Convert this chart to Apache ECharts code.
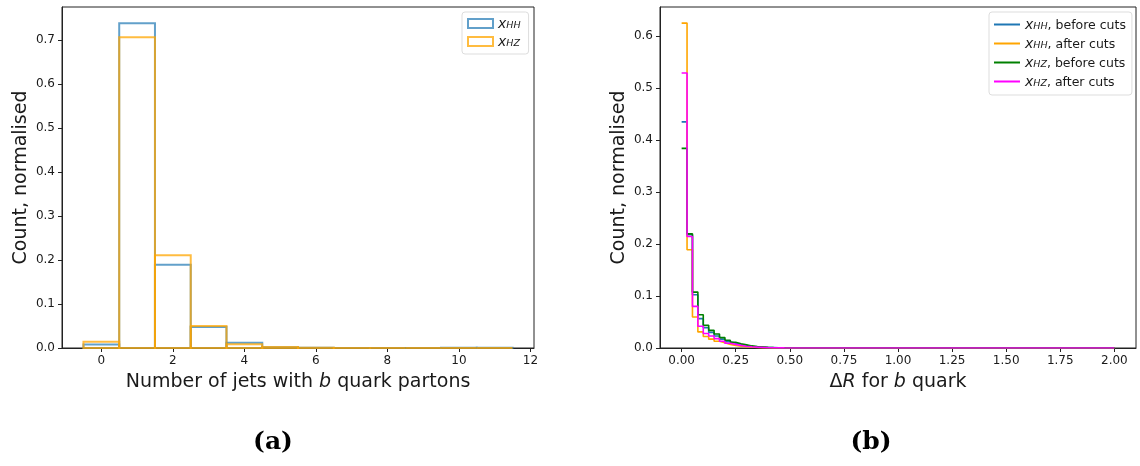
<!DOCTYPE html>
<html>
<head>
<meta charset="utf-8">
<script src="https://cdn.jsdelivr.net/npm/echarts@6/dist/echarts.min.js"></script>
<style>
  html, body { margin: 0; padding: 0; background: #fff; }
  #chart { width: 1140px; height: 466px; }
</style>
</head>
<body>
<div id="chart"></div>
<script>
// (a) number of jets with b quark partons, bins centred on integers
const jetCounts = [0, 1, 2, 3, 4, 5, 6, 7, 8, 9, 10, 11];
const jetsHH = [0.008, 0.738, 0.189, 0.048, 0.012, 0.0015, 0.0003, 0.0001, 0.0001, 0.0001, 0.0004, 0.0003];
const jetsHZ = [0.014, 0.706, 0.211, 0.050, 0.0085, 0.002, 0.0003, 0.0001, 0, 0, 0, 0];

// (b) delta R for b quark, bins of 0.025 starting at 0 (empty after 0.5, axis ends at 2.0)
const dRBinWidth = 0.025;
const dREnd = 2.0;
const hhBefore = [0.435, 0.218, 0.1025, 0.0565, 0.039, 0.030, 0.023, 0.017, 0.012, 0.009, 0.006, 0.0045, 0.003, 0.002, 0.0015, 0.001, 0.0007, 0.0004, 0.0002, 0.0001];
const hhAfter  = [0.625, 0.189, 0.0595, 0.031, 0.022, 0.017, 0.013, 0.010, 0.007, 0.005, 0.0035, 0.0025, 0.0018, 0.0012, 0.0008, 0.0005, 0.0003, 0.0002, 0.0001, 0];
const hzBefore = [0.384, 0.2196, 0.1075, 0.064, 0.0436, 0.034, 0.027, 0.020, 0.015, 0.011, 0.008, 0.006, 0.004, 0.003, 0.0022, 0.0015, 0.001, 0.0006, 0.0003, 0.0002];
const hzAfter  = [0.529, 0.2144, 0.080, 0.0417, 0.028, 0.023, 0.018, 0.013, 0.009, 0.007, 0.005, 0.0035, 0.0025, 0.0017, 0.0012, 0.0008, 0.0005, 0.0003, 0.0002, 0.0001];

const leftXTicks = [0, 2, 4, 6, 8, 10, 12];
const leftYTicks = [0, 0.1, 0.2, 0.3, 0.4, 0.5, 0.6, 0.7];
const rightXTicks = [0, 0.25, 0.5, 0.75, 1.0, 1.25, 1.5, 1.75, 2.0];
const rightYTicks = [0, 0.1, 0.2, 0.3, 0.4, 0.5, 0.6];

const FONT = 'DejaVu Sans';
const INK = '#1a1a1a';

function stepData(values) {
    const pts = values.map((v, i) => [i * dRBinWidth, v]);
    pts.push([dREnd, 0]);
    return pts;
}

function barOutline(color) {
    return function (params, api) {
        const x = api.value(0);
        const h = api.value(1);
        const p0 = api.coord([x - 0.5, 0]);
        const p1 = api.coord([x + 0.5, h]);
        return {
            type: 'rect',
            shape: { x: p0[0], y: p1[1], width: p1[0] - p0[0], height: p0[1] - p1[1] },
            style: { fill: 'none', stroke: color, lineWidth: 2 }
        };
    };
}

const legendRich = {
    x: { fontFamily: FONT, fontStyle: 'italic', fontSize: 14, color: INK, verticalAlign: 'bottom', lineHeight: 15 },
    s: { fontFamily: FONT, fontStyle: 'italic', fontSize: 9.5, color: INK, verticalAlign: 'bottom', lineHeight: 11 },
    t: { fontFamily: FONT, fontSize: 12.5, color: INK, verticalAlign: 'bottom', lineHeight: 15 }
};

const legendLabels = {
    'xHH': '{x|x}{s|HH}',
    'xHZ': '{x|x}{s|HZ}',
    'hhBefore': '{x|x}{s|HH}{t|, before cuts}',
    'hhAfter': '{x|x}{s|HH}{t|, after cuts}',
    'hzBefore': '{x|x}{s|HZ}{t|, before cuts}',
    'hzAfter': '{x|x}{s|HZ}{t|, after cuts}'
};

const axisNameStyle = {
    fontFamily: FONT, fontSize: 19, color: INK,
    rich: { i: { fontFamily: FONT, fontSize: 19, fontStyle: 'italic', color: INK } }
};

function valueAxis(gridIndex, min, max, ticks, digits, extra) {
    return Object.assign({
        type: 'value',
        gridIndex: gridIndex,
        min: min,
        max: max,
        splitLine: { show: false },
        axisLine: { show: true, onZero: false, lineStyle: { color: '#222', width: 1 } },
        axisTick: { show: true, length: 4, customValues: ticks, lineStyle: { color: '#222' } },
        axisLabel: {
            customValues: ticks, margin: 7, fontFamily: FONT, fontSize: 12, color: INK,
            formatter: v => digits === null ? String(v) : v.toFixed(digits)
        }
    }, extra);
}

const BLUE_A = 'rgba(31,119,180,0.7)';
const ORANGE_A = 'rgba(255,165,0,0.75)';

const chart = echarts.init(document.getElementById('chart'));

const option = {
    animation: false,
    backgroundColor: '#fff',
    grid: [
        { left: 62, top: 7, width: 472, height: 341, show: true, borderColor: '#222', borderWidth: 1, backgroundColor: 'transparent' },
        { left: 660, top: 7, width: 476, height: 341, show: true, borderColor: '#222', borderWidth: 1, backgroundColor: 'transparent' }
    ],
    xAxis: [
        valueAxis(0, -1.1, 12.1, leftXTicks, null, {
            name: 'Number of jets with {i|b} quark partons',
            nameLocation: 'middle', nameGap: 25, nameTextStyle: axisNameStyle
        }),
        valueAxis(1, -0.1, 2.1, rightXTicks, 2, {
            name: 'Δ{i|R} for {i|b} quark',
            nameLocation: 'middle', nameGap: 25, nameTextStyle: axisNameStyle
        })
    ],
    yAxis: [
        valueAxis(0, 0, 0.775, leftYTicks, 1, {
            name: 'Count, normalised', nameLocation: 'middle', nameRotate: 90, nameGap: 31,
            nameTextStyle: axisNameStyle
        }),
        valueAxis(1, 0, 0.656, rightYTicks, 1, {
            name: 'Count, normalised', nameLocation: 'middle', nameRotate: 90, nameGap: 31,
            nameTextStyle: axisNameStyle
        })
    ],
    legend: [
        {
            left: 462, top: 12,
            orient: 'vertical',
            itemWidth: 25, itemHeight: 9, itemGap: 4,
            padding: [5, 8, 5, 5],
            backgroundColor: '#fff', borderColor: '#ddd', borderWidth: 1, borderRadius: 3,
            data: [
                { name: 'xHH', icon: 'rect', itemStyle: { color: 'transparent', borderColor: BLUE_A, borderWidth: 2 } },
                { name: 'xHZ', icon: 'rect', itemStyle: { color: 'transparent', borderColor: ORANGE_A, borderWidth: 2 } }
            ],
            formatter: name => legendLabels[name],
            textStyle: { rich: legendRich }
        },
        {
            left: 989, top: 12,
            orient: 'vertical',
            itemWidth: 26, itemHeight: 2, itemGap: 5,
            padding: [6, 6, 6, 5],
            backgroundColor: '#fff', borderColor: '#ddd', borderWidth: 1, borderRadius: 3,
            data: [
                { name: 'hhBefore', icon: 'rect' },
                { name: 'hhAfter', icon: 'rect' },
                { name: 'hzBefore', icon: 'rect' },
                { name: 'hzAfter', icon: 'rect' }
            ],
            formatter: name => legendLabels[name],
            textStyle: { rich: legendRich }
        }
    ],
    series: [
        {
            name: 'xHH', type: 'custom', xAxisIndex: 0, yAxisIndex: 0,
            itemStyle: { color: BLUE_A },
            renderItem: barOutline(BLUE_A),
            data: jetCounts.map((c, i) => [c, jetsHH[i]])
        },
        {
            name: 'xHZ', type: 'custom', xAxisIndex: 0, yAxisIndex: 0,
            itemStyle: { color: ORANGE_A },
            renderItem: barOutline(ORANGE_A),
            data: jetCounts.map((c, i) => [c, jetsHZ[i]])
        },
        {
            name: 'hhBefore', type: 'line', step: 'end', xAxisIndex: 1, yAxisIndex: 1,
            symbol: 'none', color: '#1f77b4', lineStyle: { width: 1.6 },
            data: stepData(hhBefore)
        },
        {
            name: 'hhAfter', type: 'line', step: 'end', xAxisIndex: 1, yAxisIndex: 1,
            symbol: 'none', color: '#ffa500', lineStyle: { width: 1.6 },
            data: stepData(hhAfter)
        },
        {
            name: 'hzBefore', type: 'line', step: 'end', xAxisIndex: 1, yAxisIndex: 1,
            symbol: 'none', color: '#008000', lineStyle: { width: 1.6 },
            data: stepData(hzBefore)
        },
        {
            name: 'hzAfter', type: 'line', step: 'end', xAxisIndex: 1, yAxisIndex: 1,
            symbol: 'none', color: '#ff00ff', lineStyle: { width: 1.6 },
            data: stepData(hzAfter)
        }
    ],
    graphic: [
        {
            type: 'text', x: 273, y: 442,
            style: { text: '(a)', font: 'bold 25px "DejaVu Serif"', fill: '#000', align: 'center', verticalAlign: 'middle' }
        },
        {
            type: 'text', x: 871, y: 442,
            style: { text: '(b)', font: 'bold 25px "DejaVu Serif"', fill: '#000', align: 'center', verticalAlign: 'middle' }
        }
    ]
};

chart.setOption(option);
</script>
</body>
</html>
